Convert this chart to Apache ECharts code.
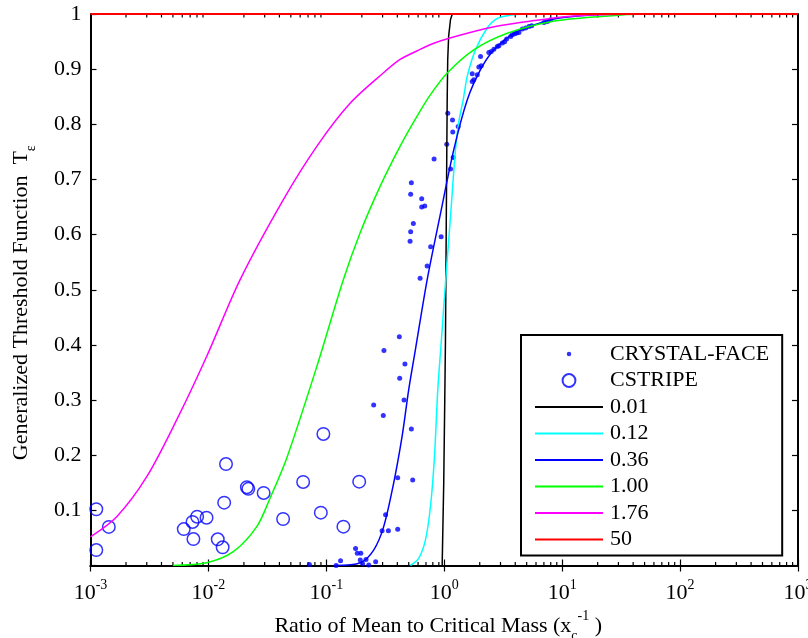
<!DOCTYPE html>
<html><head><meta charset="utf-8">
<script src="https://cdn.jsdelivr.net/npm/echarts@6/dist/echarts.min.js"></script>
<style>html,body{margin:0;padding:0;background:#fff}#c{width:808px;height:638px}</style>
</head><body><div id="c"></div>
<script>
// ---- data ----
const cfX = [1.726,1.726,1.781,1.905,1.965,2.060,2.032,2.389,2.504,2.636,2.818,2.907,3.108,3.251,3.381,3.656,3.779,3.954,4.112,4.301,4.597,4.904,5.231,5.516,7.018,7.499,7.998,
  1.071,1.175,1.313,1.181,1.05,1.19,1.13,0.820,0.526,0.519,0.644,0.644,0.683,0.547,0.519,0.513,0.941,0.767,0.716,0.624,
  0.416,0.308,0.464,0.419,0.456,0.252,0.304,0.526,0.403,0.540,0.318,0.297,0.336,0.403,0.177,0.183,0.196,0.194,0.217,0.262,0.132,0.121,0.203,0.229,0.0718];
const cfY = [0.8915,0.8776,0.8806,0.8897,0.9037,0.9060,0.9229,0.9302,0.9320,0.9363,0.9411,0.9423,0.9472,0.9496,0.9545,0.9592,0.9623,0.9641,0.9654,0.9665,0.9726,0.9744,0.9773,0.9786,0.9846,0.9864,0.9895,
  0.820,0.808,0.796,0.786,0.764,0.740,0.719,0.737,0.694,0.673,0.665,0.650,0.652,0.620,0.605,0.588,0.596,0.578,0.543,0.521,
  0.415,0.390,0.3655,0.3395,0.300,0.291,0.272,0.2476,0.159,0.155,0.092,0.063,0.063,0.0657,0.031,0.022,0.022,0.010,0.011,0.007,0.0087,0.0,0.003,0.001,0.002];
const csX = [0.00112,0.00112,0.00143,0.00618,0.00733,0.00802,0.00746,0.00964,0.0120,0.0132,0.0136,0.0141,0.0212,0.0218,0.0294,0.0430,0.0636,0.0898,0.0944,0.1396,0.190];
const csY = [0.102,0.028,0.070,0.066,0.079,0.0885,0.048,0.0867,0.0475,0.033,0.114,0.184,0.142,0.139,0.1315,0.0843,0.1515,0.0958,0.2385,0.0704,0.152];

const k001X = [0.96,0.99,1.01,1.024,1.04,1.059,1.07,1.09,1.13,1.17,1000];
const k001Y = [0,0.15,0.30,0.41,0.62,0.844,0.917,0.96,0.99,1,1];
const k012X = [0.516,0.607,0.692,0.764,0.826,0.881,0.946,1.024,1.13,1.245,1.33,1.45,1.566,1.84,2.32,2.82,3.66,5,1000];
const k012Y = [0,0.013,0.046,0.107,0.197,0.318,0.409,0.512,0.633,0.754,0.805,0.845,0.887,0.935,0.975,0.992,0.998,1,1];
const k036X = [0.12,0.194,0.252,0.306,0.372,0.439,0.499,0.569,0.716,0.929,1.205,1.566,2.03,2.64,3.89,5.77,8.53,14.4,30,1000];
const k036Y = [0,0.005,0.028,0.070,0.149,0.234,0.318,0.391,0.518,0.638,0.754,0.844,0.899,0.935,0.965,0.980,0.991,0.997,1,1];
const k100X = [0.005,0.00966,0.01626,0.0257,0.0333,0.0461,0.0830,0.1393,0.1932,0.285,0.4217,0.585,0.759,1.06,1.78,3.43,8.0,21.3,50,1000];
const k100Y = [0,0.005,0.025,0.0704,0.122,0.1945,0.3606,0.518,0.603,0.687,0.760,0.814,0.853,0.893,0.935,0.965,0.986,0.9955,1,1];
const k176X = [0.001,0.00167,0.0030,0.00538,0.00966,0.01854,0.0431,0.0830,0.159,0.304,0.425,0.585,0.815,1.566,3.01,5.77,11.1,21,50,1000];
const k176Y = [0.052,0.0885,0.161,0.264,0.379,0.518,0.663,0.760,0.838,0.893,0.918,0.933,0.947,0.965,0.979,0.988,0.9955,0.9985,1,1];
const k50X = [0.001,1000];
const k50Y = [1,1];

const decades = [0.001,0.01,0.1,1,10,100];
const minorMult = [2,3,4,5,6,7,8,9];

// ---- build ----
const zip = (xs, ys) => xs.map((x, i) => [x, ys[i]]);
const minorTicks = [];
decades.forEach(d => minorMult.forEach(m => minorTicks.push([m * d, 0])));

const FONT = 'Liberation Serif';
const lineSeries = (name, xs, ys, color, w, smooth) => ({
  name, type: 'line', data: zip(xs, ys), symbol: 'none', showSymbol: false,
  smooth: smooth ? 0.3 : false,
  lineStyle: {color, width: w}, itemStyle: {color}, z: 3
});
const lineLegend = name => ({name, itemStyle: {opacity: 0}});

const xAxisBase = {
  type: 'log', logBase: 10, min: 0.001, max: 1000, splitNumber: 6,
  splitLine: {show: false},
  axisLine: {lineStyle: {color: '#000', width: 2}},
  axisTick: {inside: true, length: 6, lineStyle: {color: '#000', width: 1.2}},
};
const yAxisBase = {
  type: 'value', min: 0, max: 1, interval: 0.1,
  splitLine: {show: false},
  axisLine: {lineStyle: {color: '#000', width: 2}},
  axisTick: {inside: true, length: 6, lineStyle: {color: '#000', width: 1.2}},
};

const chart = echarts.init(document.getElementById('c'));
chart.setOption({
  animation: false,
  backgroundColor: '#fff',
  grid: {left: 90.5, right: 10, top: 14, bottom: 72.5, containLabel: false, outerBoundsMode: 'none'},
  xAxis: [
    Object.assign({}, xAxisBase, {
      position: 'bottom',
      name: '{m|Ratio of Mean to Critical Mass (x}{sub|c}{sup|-1}{m| )}',
      nameLocation: 'middle', nameGap: 43,
      nameTextStyle: {
        fontFamily: FONT, fontSize: 22, color: '#000', padding: [0, 12, 0, 0],
        rich: {
          m: {fontFamily: FONT, fontSize: 22, lineHeight: 34, verticalAlign: 'middle', color: '#000'},
          sub: {fontFamily: FONT, fontSize: 14, lineHeight: 14, verticalAlign: 'bottom', color: '#000'},
          sup: {fontFamily: FONT, fontSize: 14, lineHeight: 27, verticalAlign: 'top', color: '#000'}
        }
      },
      axisLabel: {
        margin: 13, showMaxLabel: true, showMinLabel: true, hideOverlap: false,
        alignMaxLabel: 'center', alignMinLabel: 'center',
        formatter: v => '{m|10}{sup|' + Math.round(Math.log10(v)) + '}',
        rich: {
          m: {fontFamily: FONT, fontSize: 22, lineHeight: 30, verticalAlign: 'middle', color: '#000'},
          sup: {fontFamily: FONT, fontSize: 14, lineHeight: 10, verticalAlign: 'top', color: '#000'}
        }
      }
    }),
    Object.assign({}, xAxisBase, {position: 'top', axisLabel: {show: false}})
  ],
  yAxis: [
    Object.assign({}, yAxisBase, {
      position: 'left',
      name: '{m|Generalized Threshold Function  T}{sub|ε}',
      nameLocation: 'middle', nameGap: 52.5, nameRotate: 90,
      nameTextStyle: {
        fontFamily: FONT, fontSize: 22, color: '#000', padding: [0, 26, 0, 0],
        rich: {
          m: {fontFamily: FONT, fontSize: 22, lineHeight: 34, verticalAlign: 'middle', color: '#000'},
          sub: {fontFamily: FONT, fontSize: 14, lineHeight: 12, verticalAlign: 'bottom', color: '#000'}
        }
      },
      axisLabel: {
        margin: 9, fontFamily: FONT, fontSize: 22, color: '#000',
        formatter: v => (Math.abs(v) < 1e-9 ? '' : String(+v.toFixed(1)))
      }
    }),
    Object.assign({}, yAxisBase, {position: 'right', axisLabel: {show: false}})
  ],
  legend: {
    orient: 'vertical', left: 521, top: 335,
    itemWidth: 68, itemHeight: 14, itemGap: 4.5,
    padding: [8, 13, 5, 13],
    borderColor: '#000', borderWidth: 2, backgroundColor: '#fff',
    textStyle: {fontFamily: FONT, fontSize: 22, lineHeight: 21, color: '#000', padding: [0, 0, 0, 2]},
    data: [
      {name: 'CRYSTAL-FACE', icon: 'path://M0 0M20 20M10 6.8A3.2 3.2 0 1 1 10 13.2A3.2 3.2 0 1 1 10 6.8Z'},
      {name: 'CSTRIPE', icon: 'path://M0 0M20 20M10 0.8A9.2 9.2 0 1 1 10 19.2A9.2 9.2 0 1 1 10 0.8Z'},
      lineLegend('0.01'), lineLegend('0.12'), lineLegend('0.36'),
      lineLegend('1.00'), lineLegend('1.76'), lineLegend('50')
    ]
  },
  series: [
    {name: 'CRYSTAL-FACE', type: 'scatter', data: zip(cfX, cfY), symbol: 'circle', symbolSize: 5,
     itemStyle: {color: '#0000ff'}, z: 2},
    {name: 'CSTRIPE', type: 'scatter', data: zip(csX, csY), symbol: 'circle', symbolSize: 12.5,
     itemStyle: {color: 'rgba(255,255,255,0)', borderColor: '#0000ff', borderWidth: 1.5}, z: 2},
    lineSeries('0.01', k001X, k001Y, '#000000', 1.5, false),
    lineSeries('0.12', k012X, k012Y, '#00ffff', 1.5, true),
    lineSeries('0.36', k036X, k036Y, '#0000ff', 1.5, true),
    lineSeries('1.00', k100X, k100Y, '#00ff00', 1.5, true),
    lineSeries('1.76', k176X, k176Y, '#ff00ff', 1.5, true),
    lineSeries('50', k50X, k50Y, '#ff0000', 2.2, false),
    {type: 'custom', name: 'minor', data: minorTicks, clip: false, silent: true, z: 1,
     encode: {x: 0, y: 1},
     renderItem: (params, api) => {
       const b = api.coord([api.value(0), 0]);
       const t = api.coord([api.value(0), 1]);
       return {type: 'group', children: [
         {type: 'line', shape: {x1: b[0], y1: b[1], x2: b[0], y2: b[1] - 3.5}, style: {stroke: '#000', lineWidth: 1.2}},
         {type: 'line', shape: {x1: t[0], y1: t[1], x2: t[0], y2: t[1] + 3.5}, style: {stroke: '#000', lineWidth: 1.2}}
       ]};
     }}
  ]
});
</script></body></html>
